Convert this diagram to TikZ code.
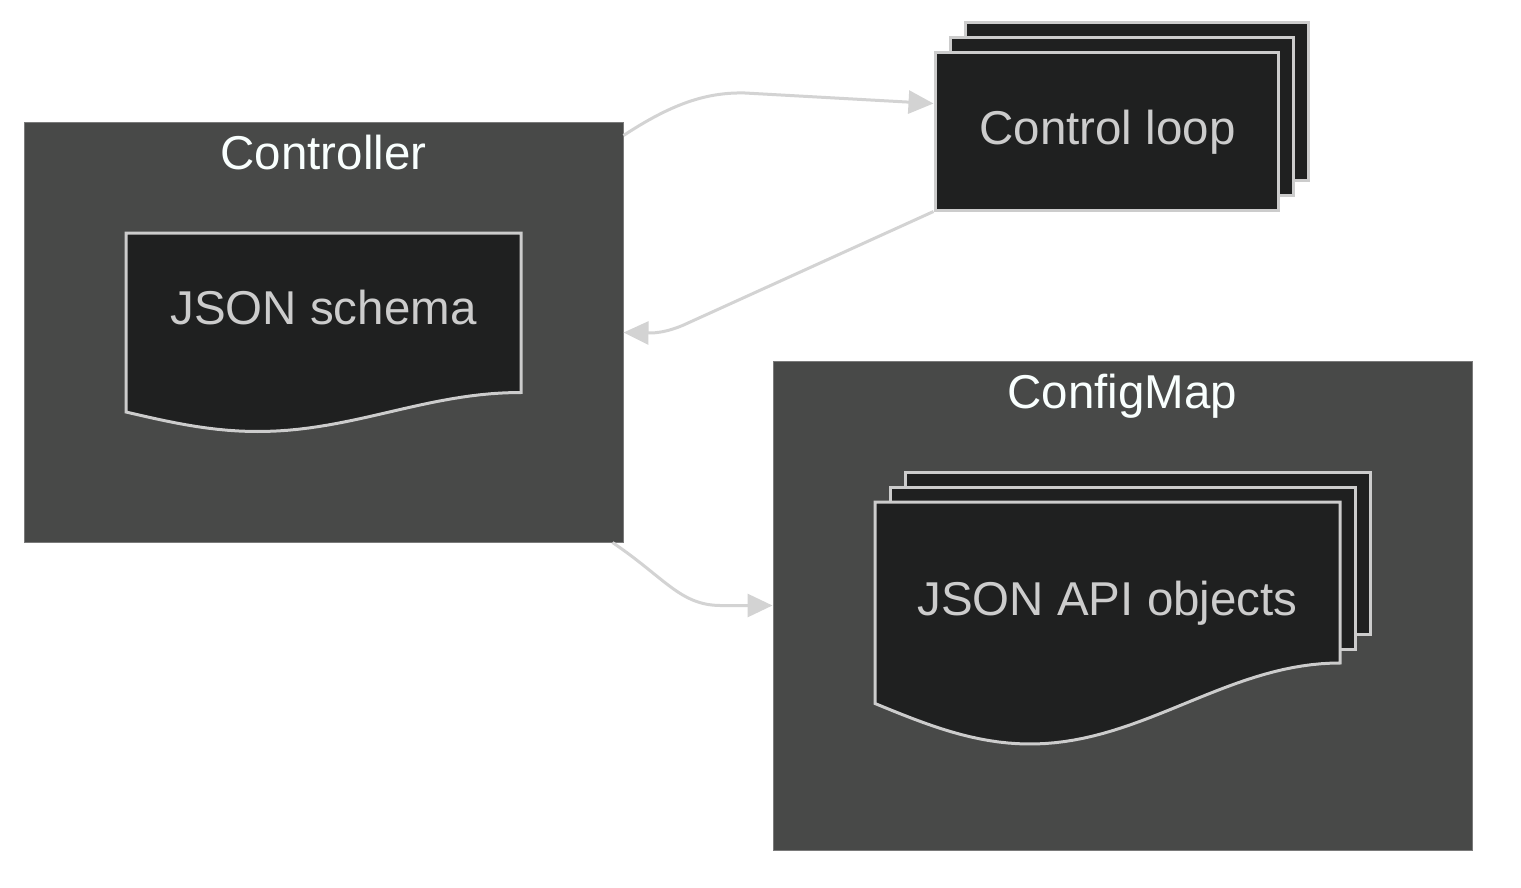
\documentclass[tikz,border=0pt]{standalone}
\usepackage{fontspec}
\setmainfont{Liberation Sans}
\usetikzlibrary{arrows.meta}
\definecolor{clusterbg}{HTML}{484948}
\definecolor{clusterline}{HTML}{7A7A7A}
\definecolor{nodebg}{HTML}{1F2020}
\definecolor{nodeline}{HTML}{CCCCCC}
\definecolor{edgeline}{HTML}{D3D3D3}
\definecolor{titletext}{HTML}{F9FFFE}
\begin{document}
\begin{tikzpicture}[x=1pt,y=-1pt,
	every node/.style={font=\fontsize{47.5}{57}\selectfont},
	cluster/.style={draw=clusterline,line width=1pt,fill=clusterbg,inner sep=0pt},
	layer/.style={draw=nodeline,line width=3pt,fill=nodebg},
	flow/.style={draw=edgeline,line width=3pt,-{Triangle[length=25pt,width=23pt]}}]
		\useasboundingbox(0,0)rectangle(1521,888);
		
		\node[cluster,minimum width=599pt,minimum height=419pt](ctrl)at(323.5,332.5){};
		\node[cluster,minimum width=699pt,minimum height=489pt](cfg)at(1122.5,605.5){};
		\node[text=titletext,anchor=base](ctrlt)at(323.5,169){Controller};
		\node[text=titletext,anchor=base](cfgt)at(1122.5,408){ConfigMap};
		
		\foreach \d in{30,15}
		\draw[layer](935+\d,53-\d)rectangle(1278+\d,210-\d);
		\node[layer,minimum width=343pt,minimum height=157pt,inner sep=0pt](loop)at(1106.5,131.5){};
		\node[text=nodeline,anchor=base](looptext)at(1107.5,145){Control loop};
		
		\draw[layer](126,412)--(126,233)--(521,233)--(521,392.5)
		--plot[domain=1:0,samples=40]({126+395*\x},{412+19.5*sin(270*\x)})--cycle;
		\node[text=nodeline,anchor=base](schema)at(323.5,324){JSON schema};
		
		\foreach \d in{30,15}
		\draw[layer](875+\d,502-\d)rectangle(1340+\d,664-\d);
		\draw[layer](875,703.5)--(875,502)--(1340,502)--(1340,663)
		--plot[domain=1:0,samples=50]({875+465*\x},{703.5+40.5*sin(270*\x)})--cycle;
		\node[text=nodeline,anchor=base](apiobj)at(1107.5,615){JSON API objects};
		
		\draw[flow]([yshift=-13pt]ctrl.north east)..controls(670,105)and(705,92)..(745,93)--([yshift=-52pt]loop.north west);
		\draw[flow](loop.south west)--(688,323)..controls(665,334)and(650,333)..(ctrl.east);
		\draw[flow]([xshift=-11pt]ctrl.south east)..controls(665,578)and(680,605)..(720,605.5)--(cfg.west);
	\end{tikzpicture}
\end{document}
